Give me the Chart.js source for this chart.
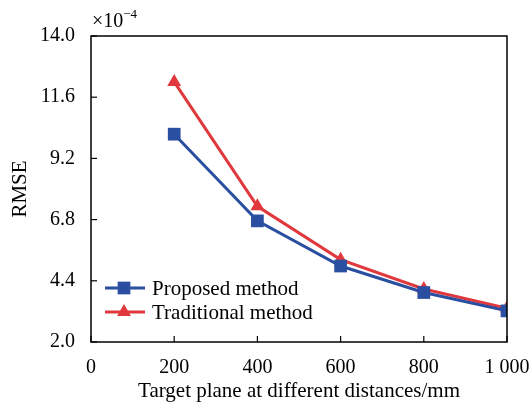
<!DOCTYPE html>
<html><head><meta charset="utf-8">
<script src="https://cdn.jsdelivr.net/npm/chart.js@4"></script>
<style>html,body{margin:0;padding:0;background:#fff}#wrap{width:532px;height:404px;position:relative}</style>
</head><body><div id="wrap"><canvas id="c" width="532" height="404"></canvas></div>
<script>
const distances = [200, 400, 600, 800, 1000];
const proposed = [10.15, 6.75, 4.98, 3.94, 3.22];
const traditional = [12.2, 7.32, 5.23, 4.08, 3.32];
const xTicks = [0, 200, 400, 600, 800, 1000];
const yTicks = [2.0, 4.4, 6.8, 9.2, 11.6, 14.0];
const seriesNames = ['Proposed method', 'Traditional method'];
const xTitle = 'Target plane at different distances/mm';
const yTitle = 'RMSE';
const blue = '#2b4fa0', red = '#e0383c';
const FONT = '"Liberation Serif", "Times New Roman", serif';

const frame = {
  id: 'frame',
  afterDraw(chart) {
    const ctx = chart.ctx, a = chart.chartArea, xs = chart.scales.x, ys = chart.scales.y;
    ctx.save();
    ctx.strokeStyle = '#000'; ctx.lineWidth = 1.5;
    ctx.strokeRect(a.left, a.top, a.right - a.left, a.bottom - a.top);
    ctx.lineWidth = 1.2;
    xTicks.forEach(v => { const px = xs.getPixelForValue(v); ctx.beginPath(); ctx.moveTo(px, a.bottom); ctx.lineTo(px, a.bottom - 6); ctx.stroke(); });
    yTicks.forEach(v => { const py = ys.getPixelForValue(v); ctx.beginPath(); ctx.moveTo(a.left, py); ctx.lineTo(a.left + 6, py); ctx.stroke(); });
    // exponent label
    ctx.fillStyle = '#000'; ctx.font = '20px ' + FONT; ctx.textBaseline = 'alphabetic'; ctx.textAlign = 'left';
    ctx.fillText('×10', a.left + 1, a.top - 9);
    const w = ctx.measureText('×10').width;
    ctx.font = '13px ' + FONT;
    ctx.fillText('−4', a.left + 1 + w, a.top - 18);
    // legend
    const items = [[seriesNames[0], blue, 'rect', 9], [seriesNames[1], red, 'triangle', 8]];
    items.forEach((it, i) => {
      const y = 288 + i * 24;
      ctx.strokeStyle = it[1]; ctx.lineWidth = 3;
      ctx.beginPath(); ctx.moveTo(105, y); ctx.lineTo(145, y); ctx.stroke();
      ctx.fillStyle = it[1];
      Chart.helpers.drawPoint(ctx, {pointStyle: it[2], radius: it[3], borderWidth: 0}, 124, y);
      ctx.fillStyle = '#000'; ctx.font = '21px ' + FONT; ctx.textBaseline = 'middle';
      ctx.fillText(it[0], 152, y + 1);
    });
    ctx.restore();
  }
};

new Chart(document.getElementById('c'), {
  type: 'line',
  data: {
    datasets: [
      { label: seriesNames[0], data: distances.map((d, i) => ({x: d, y: proposed[i]})), borderColor: blue, backgroundColor: blue,
        borderWidth: 3, pointStyle: 'rect', pointRadius: 9, pointBorderWidth: 0, tension: 0 },
      { label: seriesNames[1], data: distances.map((d, i) => ({x: d, y: traditional[i]})), borderColor: red, backgroundColor: red,
        borderWidth: 3, pointStyle: 'triangle', pointRadius: 8, pointBorderWidth: 0, tension: 0 }
    ]
  },
  options: {
    responsive: false, animation: false,
    layout: { padding: { top: 36, right: 25, left: 0, bottom: 0 } },
    plugins: { legend: { display: false }, tooltip: { enabled: false } },
    scales: {
      x: { type: 'linear', min: 0, max: 1000,
        afterBuildTicks: s => { s.ticks = xTicks.map(v => ({value: v})); },
        afterFit: s => { s.height = 62; s.paddingRight = 0; s.paddingLeft = 0; },
        grid: { display: false, drawTicks: false }, border: { display: false },
        ticks: { color: '#000', padding: 14, font: { family: FONT, size: 20 }, maxRotation: 0,
          callback: v => v >= 1000 ? String(v).replace(/\B(?=(\d{3})+(?!\d))/g, ' ') : String(v) },
        title: { display: true, text: xTitle, color: '#000', font: { family: FONT, size: 21 }, padding: { top: 6, bottom: 0 } } },
      y: { min: 2, max: 14,
        afterBuildTicks: s => { s.ticks = yTicks.map(v => ({value: v})); },
        afterFit: s => { s.width = 91; s.paddingTop = 0; s.paddingBottom = 0; },
        grid: { display: false, drawTicks: false }, border: { display: false },
        ticks: { color: '#000', padding: 16, font: { family: FONT, size: 20 }, callback: v => Number(v).toFixed(1) },
        title: { display: true, text: yTitle, color: '#000', font: { family: FONT, size: 21 }, padding: { top: 8, bottom: 4 } } }
    }
  },
  plugins: [frame]
});
</script></body></html>
